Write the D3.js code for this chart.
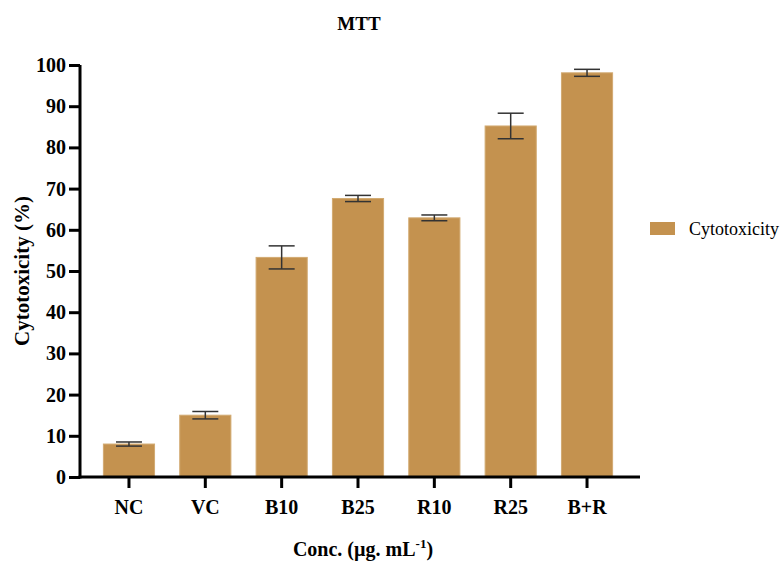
<!DOCTYPE html>
<html>
<head>
<meta charset="utf-8">
<script src="https://cdn.jsdelivr.net/npm/d3@7"></script>
<style>
  body { margin: 0; background: #fff; }
</style>
</head>
<body>
<div id="chart"></div>
<script>
// Data
const groups = ["NC", "VC", "B10", "B25", "R10", "R25", "B+R"];
const cytotoxicity = [8.0, 15.0, 53.3, 67.6, 62.9, 85.2, 98.1];
const errors = [0.5, 0.9, 2.8, 0.75, 0.7, 3.1, 0.85];
const yTicks = [0, 10, 20, 30, 40, 50, 60, 70, 80, 90, 100];

const data = groups.map((g, i) => ({ group: g, value: cytotoxicity[i], err: errors[i] }));

const serif = "'Liberation Serif', 'Times New Roman', Times, serif";

const svg = d3.select("#chart").append("svg")
  .attr("width", 781)
  .attr("height", 564)
  .style("font-family", serif);

// plot area
const plotLeft = 80, plotRight = 640, plotTop = 65, plotBottom = 477;

const x = d3.scaleBand()
  .domain(groups)
  .range([90.8, 625.2])
  .paddingInner(0.33)
  .paddingOuter(0.165);

const y = d3.scaleLinear()
  .domain([0, 100])
  .range([plotBottom, plotTop]);

const barColor = "#c4924f";

// bars
svg.selectAll("rect.bar")
  .data(data)
  .enter()
  .append("rect")
  .attr("class", "bar")
  .attr("x", d => x(d.group))
  .attr("y", d => y(d.value))
  .attr("width", x.bandwidth())
  .attr("height", d => y(0) - y(d.value))
  .attr("fill", barColor)
  .attr("stroke", "#d2aa72")
  .attr("stroke-width", 1);

// error bars
const capW = 13;
const eb = svg.selectAll("g.err")
  .data(data)
  .enter()
  .append("g")
  .attr("class", "err")
  .attr("stroke", "#333")
  .attr("stroke-width", 1.5);
eb.append("line")
  .attr("x1", d => x(d.group) + x.bandwidth() / 2)
  .attr("x2", d => x(d.group) + x.bandwidth() / 2)
  .attr("y1", d => y(d.value + d.err))
  .attr("y2", d => y(d.value - d.err));
eb.append("line")
  .attr("x1", d => x(d.group) + x.bandwidth() / 2 - capW)
  .attr("x2", d => x(d.group) + x.bandwidth() / 2 + capW)
  .attr("y1", d => y(d.value + d.err))
  .attr("y2", d => y(d.value + d.err));
eb.append("line")
  .attr("x1", d => x(d.group) + x.bandwidth() / 2 - capW)
  .attr("x2", d => x(d.group) + x.bandwidth() / 2 + capW)
  .attr("y1", d => y(d.value - d.err))
  .attr("y2", d => y(d.value - d.err));

// Y axis
const yAxis = svg.append("g")
  .attr("transform", "translate(" + plotLeft + ",0)")
  .call(d3.axisLeft(y).tickValues(yTicks).tickSize(11).tickPadding(3).tickSizeOuter(0));
yAxis.attr("font-family", null);
yAxis.select(".domain").attr("stroke-width", 3).attr("d", "M0," + (plotBottom + 1.5) + "V" + plotTop);
yAxis.selectAll(".tick line").attr("stroke-width", 3);
yAxis.selectAll(".tick text")
  .style("font-family", serif)
  .style("font-size", "20px")
  .style("font-weight", "bold")
  .attr("fill", "#000");

// X axis
const xAxis = svg.append("g")
  .attr("transform", "translate(0," + plotBottom + ")")
  .call(d3.axisBottom(x).tickSize(11).tickPadding(12).tickSizeOuter(0));
xAxis.attr("font-family", null);
xAxis.select(".domain").attr("stroke-width", 3).attr("d", "M" + (plotLeft - 1.5) + ",0H" + plotRight);
xAxis.selectAll(".tick line").attr("stroke-width", 3);
xAxis.selectAll(".tick text")
  .style("font-family", serif)
  .style("font-size", "20px")
  .style("font-weight", "bold")
  .attr("fill", "#000");

// title
svg.append("text")
  .attr("x", 359)
  .attr("y", 30)
  .attr("text-anchor", "middle")
  .style("font-size", "19px")
  .style("font-weight", "bold")
  .text("MTT");

// y axis label
svg.append("text")
  .attr("transform", "translate(29,271) rotate(-90)")
  .attr("text-anchor", "middle")
  .style("font-size", "21px")
  .style("font-weight", "bold")
  .text("Cytotoxicity (%)");

// x axis label
const xl = svg.append("text")
  .attr("x", 363)
  .attr("y", 556)
  .attr("text-anchor", "middle")
  .style("font-size", "20px")
  .style("font-weight", "bold");
xl.append("tspan").text("Conc. (µg. mL");
xl.append("tspan").attr("dy", -8).style("font-size", "13px").text("-1");
xl.append("tspan").attr("dy", 8).text(")");

// legend
svg.append("rect")
  .attr("x", 650)
  .attr("y", 222)
  .attr("width", 25)
  .attr("height", 13)
  .attr("fill", barColor);
svg.append("text")
  .attr("x", 689)
  .attr("y", 235)
  .style("font-size", "18px")
  .text("Cytotoxicity");
</script>
</body>
</html>
